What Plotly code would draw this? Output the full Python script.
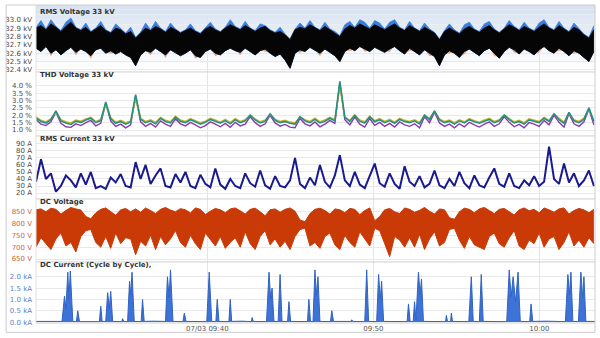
import numpy as np
import pandas as pd
import plotly.graph_objects as go
from plotly.subplots import make_subplots

# ---------------- DATA ----------------
record_start = "2014-07-03 09:29:41"
grid_step_s = 18  # sampling step of the regular series (seconds)

rms_v_blue_hi = [32.91,32.99,32.89,33.00,32.92,32.87,32.97,33.02,32.91,32.88,
                 32.96,32.86,32.90,32.98,32.88,32.85,32.95,32.89,32.84,32.91,
                 32.79,32.85,32.96,32.88,32.98,32.90,32.86,32.96,32.89,32.85,
                 32.88,32.95,32.87,32.84,32.90,32.97,32.89,32.86,32.91,33.00,
                 32.92,32.89,32.98,32.90,32.87,32.95,32.93,32.88,32.85,32.91,
                 32.83,32.77,32.89,32.96,32.90,32.99,32.91,32.88,32.97,32.89,
                 32.86,32.81,32.94,32.98,32.91,33.00,32.97,32.90,32.99,32.96,
                 32.89,32.97,33.00,32.91,32.88,32.98,32.90,32.87,32.96,32.89,
                 32.85,32.77,32.87,32.95,32.88,32.84,32.94,32.97,32.89,32.86,
                 32.95,32.98,32.89,32.85,32.90,32.99,32.92,32.88,32.97,32.90,
                 32.87,32.96,33.00,32.91,32.88,32.98,32.90,32.86,32.96,32.89,32.83,32.79,32.93]
rms_v_black_hi = [32.90,32.93,32.88,32.95,32.91,32.86,32.92,32.97,32.90,32.87,
                  32.91,32.85,32.89,32.93,32.87,32.84,32.90,32.88,32.83,32.86,
                  32.78,32.84,32.90,32.87,32.92,32.89,32.85,32.91,32.88,32.84,
                  32.87,32.90,32.86,32.83,32.89,32.92,32.88,32.85,32.90,32.94,
                  32.91,32.88,32.93,32.89,32.86,32.90,32.92,32.87,32.84,32.86,
                  32.82,32.76,32.88,32.91,32.89,32.94,32.90,32.87,32.92,32.88,
                  32.85,32.80,32.89,32.93,32.90,32.95,32.92,32.89,32.94,32.91,
                  32.88,32.92,32.95,32.90,32.87,32.93,32.89,32.86,32.91,32.88,
                  32.84,32.76,32.86,32.90,32.87,32.83,32.89,32.92,32.88,32.85,
                  32.90,32.93,32.88,32.84,32.89,32.94,32.91,32.87,32.92,32.89,
                  32.86,32.91,32.95,32.90,32.87,32.93,32.89,32.85,32.91,32.88,32.82,32.78,32.88]
rms_v_black_lo = [32.66,32.62,32.68,32.60,32.64,32.58,32.63,32.67,32.61,32.65,
                  32.62,32.57,32.64,32.66,32.60,32.63,32.59,32.62,32.58,32.55,
                  32.45,32.58,32.63,32.61,32.66,32.62,32.58,32.64,32.60,32.57,
                  32.60,32.64,32.57,32.55,32.62,32.65,32.60,32.58,32.63,32.66,
                  32.63,32.61,32.66,32.62,32.58,32.63,32.65,32.60,32.56,32.59,
                  32.52,32.42,32.60,32.64,32.62,32.67,32.63,32.60,32.65,32.61,
                  32.57,32.50,32.62,32.66,32.63,32.68,32.65,32.62,32.67,32.64,
                  32.61,32.65,32.68,32.63,32.59,32.66,32.62,32.58,32.64,32.60,
                  32.56,32.45,32.58,32.63,32.60,32.55,32.62,32.65,32.61,32.57,
                  32.63,32.66,32.60,32.54,32.62,32.67,32.64,32.59,32.65,32.62,
                  32.58,32.64,32.68,32.63,32.60,32.66,32.62,32.57,32.63,32.60,32.55,32.50,32.62]
rms_v_peach_lo = [32.68,32.64,32.70,32.57,32.66,32.60,32.65,32.69,32.58,32.67,
                  32.64,32.54,32.66,32.68,32.62,32.60,32.61,32.64,32.60,32.57,
                  32.47,32.60,32.65,32.58,32.68,32.64,32.55,32.66,32.62,32.59,
                  32.62,32.66,32.54,32.57,32.64,32.67,32.57,32.60,32.65,32.68,
                  32.65,32.58,32.68,32.64,32.60,32.65,32.62,32.62,32.58,32.61,
                  32.54,32.44,32.62,32.61,32.64,32.69,32.65,32.57,32.67,32.63,
                  32.59,32.52,32.64,32.63,32.65,32.70,32.62,32.64,32.69,32.66,
                  32.63,32.62,32.70,32.65,32.61,32.63,32.64,32.60,32.66,32.57,
                  32.58,32.47,32.60,32.60,32.62,32.57,32.59,32.67,32.63,32.59,
                  32.65,32.68,32.57,32.56,32.64,32.69,32.61,32.61,32.67,32.64,
                  32.60,32.61,32.70,32.65,32.62,32.63,32.64,32.59,32.60,32.62,32.57,32.52,32.64]

thd_green = [1.82,1.58,1.47,1.70,2.30,1.62,1.48,1.38,1.60,1.52,
             1.68,1.80,1.50,1.64,2.90,1.76,1.46,1.58,1.40,1.54,
             3.40,1.72,1.50,1.62,1.42,1.80,1.58,1.48,1.88,1.60,
             1.50,1.70,1.56,1.40,1.52,1.72,1.60,1.46,1.64,1.42,
             1.70,1.50,1.62,2.00,1.68,1.48,1.60,2.10,1.66,1.50,
             1.58,1.46,1.40,1.90,1.62,1.50,1.72,1.48,1.60,1.80,
             1.62,4.30,1.86,1.58,2.00,1.60,1.48,1.90,1.56,1.70,
             1.50,1.64,1.46,1.72,1.58,1.50,1.62,1.42,2.00,1.70,
             2.30,1.68,1.50,1.60,1.40,1.62,1.48,1.70,1.56,1.46,
             1.60,1.72,1.50,1.62,2.00,1.70,1.48,1.58,1.40,1.68,
             1.60,1.50,1.80,1.58,2.10,1.70,1.46,2.20,1.62,1.50,1.72,2.50,1.58]
thd_yellow = [1.90,1.66,1.55,1.78,2.20,1.70,1.56,1.48,1.68,1.60,
              1.76,1.86,1.58,1.72,2.70,1.84,1.54,1.66,1.50,1.62,
              3.10,1.80,1.58,1.70,1.52,1.86,1.66,1.56,1.94,1.68,
              1.58,1.78,1.64,1.50,1.60,1.80,1.68,1.54,1.72,1.52,
              1.78,1.58,1.70,2.00,1.76,1.56,1.68,2.05,1.74,1.58,
              1.66,1.54,1.50,1.88,1.70,1.58,1.80,1.56,1.68,1.86,
              1.70,3.90,1.90,1.66,2.02,1.68,1.56,1.94,1.64,1.78,
              1.58,1.72,1.54,1.80,1.66,1.58,1.70,1.52,2.04,1.78,
              2.25,1.76,1.58,1.68,1.50,1.70,1.56,1.78,1.64,1.54,
              1.68,1.80,1.58,1.70,2.02,1.78,1.56,1.66,1.50,1.76,
              1.68,1.58,1.86,1.66,2.08,1.78,1.54,2.15,1.70,1.58,1.80,2.40,1.66]
thd_purple = [1.70,1.40,1.30,1.55,2.20,1.45,1.22,1.18,1.42,1.30,
              1.50,1.65,1.28,1.45,2.80,1.60,1.25,1.40,1.15,1.35,
              3.30,1.55,1.25,1.45,1.20,1.62,1.40,1.25,1.75,1.42,
              1.28,1.52,1.35,1.15,1.30,1.55,1.40,1.22,1.45,1.18,
              1.52,1.28,1.40,1.90,1.50,1.25,1.42,2.00,1.48,1.26,
              1.38,1.20,1.15,1.78,1.42,1.28,1.55,1.22,1.40,1.65,
              1.45,4.20,1.70,1.35,1.88,1.40,1.20,1.78,1.32,1.52,
              1.25,1.45,1.20,1.55,1.35,1.25,1.42,1.15,1.90,1.50,
              2.20,1.48,1.25,1.40,1.15,1.42,1.22,1.52,1.35,1.20,
              1.40,1.55,1.25,1.42,1.90,1.52,1.22,1.38,1.15,1.50,
              1.40,1.25,1.65,1.35,2.00,1.52,1.20,2.10,1.42,1.25,1.55,2.40,1.35]

rms_current = [36,68,40,48,22,30,45,38,28,48,
               32,50,27,30,26,42,35,47,30,28,
               64,40,60,33,45,55,30,28,47,35,
               50,30,27,46,33,28,55,32,26,40,
               30,27,48,34,29,52,31,26,44,30,
               28,38,70,33,27,42,31,60,36,28,
               45,74,38,30,50,32,27,46,62,34,
               29,48,33,26,58,36,30,44,28,33,
               52,31,27,40,30,50,34,27,45,31,
               28,42,55,33,29,48,30,27,38,31,
               44,30,36,86,40,33,62,35,48,30,38,52,30]

dc_v_hi = [858,862,850,865,860,840,855,868,862,857,
           830,820,845,860,866,852,835,858,864,850,
           862,848,866,855,842,860,868,857,850,863,
           858,845,866,860,838,852,864,858,846,862,
           866,854,840,860,865,850,833,858,862,848,
           860,866,852,815,808,842,860,865,855,840,
           862,858,846,864,860,838,855,866,812,830,
           858,864,850,842,866,860,848,856,868,852,
           840,862,858,825,818,850,865,860,846,862,
           868,855,842,860,864,850,836,858,866,854,
           860,845,866,858,848,862,866,840,855,864,858,846,860]
dc_v_lo = [700,740,715,690,735,760,705,720,680,745,
           770,775,720,700,745,695,760,715,740,735,
           668,725,705,750,690,745,710,735,770,720,
           700,750,715,690,760,730,705,745,695,720,
           740,700,765,715,690,745,770,710,735,700,
           725,690,745,775,780,705,720,695,745,760,
           710,690,750,720,700,765,735,705,780,770,
           715,660,745,730,700,740,700,755,690,735,
           765,705,720,775,780,730,695,745,710,700,
           690,745,760,715,700,740,770,705,690,730,
           715,760,700,735,745,690,720,765,705,730,700,740,715]

# DC current: (seconds after record start, kA)
dc_i_sec = [0,43,94,103,108,115,119,124,133,146,151,157,205,229,234,239,252,259,265,270,277,
            310,313,317,331,338,342,347,355,380,385,391,421,468,475,481,486,495,531,536,542,583,
            617,626,635,650,655,661,697,702,707,745,778,781,785,833,842,848,853,860,875,882,889,
            909,914,920,954,981,986,992,1001,1008,1013,1019,1026,1064,1069,1075,1138,1141,1145,
            1188,1195,1202,1231,1238,1244,1249,1256,1303,1341,1346,1352,1363,1368,1373,1382,1388,
            1393,1400,1447,1480,1483,1487,1498,1501,1505,1564,1573,1580,1602,1609,1616,1663,1701,
            1710,1717,1724,1733,1742,1750,1784,1789,1795,1843,1913,1922,1928,1933,1940,1960,1969,
            1975,1980,1987,2020]
dc_i_ka = [0.03,0.04,0.03,1.15,0.6,2.2,1.0,2.25,0.03,0.02,0.5,0.02,0.04,0.02,0.7,0.03,0.03,1.3,0.6,1.35,0.03,
           0.02,0.15,0.03,0.02,1.8,1.2,2.2,0.03,0.02,1.0,0.03,0.04,0.03,2.0,1.1,2.3,0.03,0.02,0.4,0.03,0.04,
           0.02,2.2,0.03,0.02,1.0,0.03,0.02,1.0,0.03,0.04,0.02,0.2,0.03,0.02,2.2,1.0,1.5,0.03,0.02,2.1,0.03,
           0.02,0.9,0.03,0.04,0.02,1.0,0.03,0.02,2.3,1.2,2.0,0.03,0.02,0.5,0.03,0.03,0.1,0.03,
           0.02,2.3,0.03,0.02,2.1,1.0,1.8,0.03,0.04,0.02,0.8,0.03,0.02,0.9,0.1,2.2,1.2,
           1.9,0.03,0.04,0.02,0.3,0.03,0.02,0.4,0.03,0.02,2.0,0.03,0.02,2.1,0.03,0.04,0.02,
           2.3,1.1,2.0,0.9,2.2,0.03,0.02,0.8,0.03,0.04,0.02,2.1,1.2,2.2,0.03,0.02,2.2,
           1.1,2.0,0.03,0.03]

panel_titles = ["RMS Voltage 33 kV", "THD Voltage 33 kV", "RMS Current 33 kV",
                "DC Voltage", "DC Current (Cycle by Cycle),"]
x_tick_times = ["2014-07-03 09:40:00", "2014-07-03 09:50:00", "2014-07-03 10:00:00"]
x_tick_text = ["07/03 09:40", "09:50", "10:00"]
y1_ticks = [32.4, 32.5, 32.6, 32.7, 32.8, 32.9, 33.0]
y2_ticks = [1.0, 1.5, 2.0, 2.5, 3.0, 3.5, 4.0]
y3_ticks = [20, 30, 40, 50, 60, 70, 80, 90]
y4_ticks = [650, 700, 750, 800, 850]
y5_ticks = [0.0, 0.5, 1.0, 1.5, 2.0]

# ---------------- BUILD ----------------
t0 = pd.Timestamp(record_start)
t_grid = t0 + pd.to_timedelta(np.arange(len(thd_green)) * grid_step_s, unit="s")
t_dci = t0 + pd.to_timedelta(np.array(dc_i_sec), unit="s")
t_end = t0 + pd.Timedelta(seconds=2020)

W, H = 600, 338
ML, MR, MT, MB = 33, 5, 5, 10
PH = H - MT - MB
PW = W - ML - MR
panel_px = [(5, 73), (73, 138), (138, 202), (202, 266), (266, 328)]
def py(p):
    return (H - MB - p) / PH
def px(p):
    return (p - ML) / PW

fig = make_subplots(rows=5, cols=1, shared_xaxes=True, vertical_spacing=0)

def band(lo, hi, color, row, lw=0.8):
    fig.add_trace(go.Scatter(x=t_grid, y=lo, mode="lines", line=dict(color=color, width=lw),
                             hoverinfo="skip"), row=row, col=1)
    fig.add_trace(go.Scatter(x=t_grid, y=hi, mode="lines", line=dict(color=color, width=lw),
                             fill="tonexty", fillcolor=color, hoverinfo="skip"), row=row, col=1)

# Panel 1
band(rms_v_peach_lo, rms_v_black_hi, "#e3a47e", 1, lw=0.6)
band(rms_v_black_lo, rms_v_blue_hi, "#3b7ddb", 1)
band(rms_v_black_lo, rms_v_black_hi, "#050505", 1)

# Panel 2
fig.add_trace(go.Scatter(x=t_grid, y=thd_purple, mode="lines", line=dict(color="#8b3ab0", width=1.4)), row=2, col=1)
fig.add_trace(go.Scatter(x=t_grid, y=thd_yellow, mode="lines", line=dict(color="#c9b52e", width=1.4)), row=2, col=1)
fig.add_trace(go.Scatter(x=t_grid, y=thd_green, mode="lines", line=dict(color="#23917f", width=1.6)), row=2, col=1)

# Panel 3
fig.add_trace(go.Scatter(x=t_grid, y=rms_current, mode="lines", line=dict(color="#1a1a8f", width=2)), row=3, col=1)

# Panel 4
band(dc_v_lo, dc_v_hi, "#c93a06", 4, lw=1)

# Panel 5
fig.add_trace(go.Scatter(x=t_dci, y=dc_i_ka, mode="lines", line=dict(color="#2f63c4", width=1),
                         fill="tozeroy", fillcolor="#3d72d6"), row=5, col=1)

font_family = "DejaVu Sans"
ranges = [[32.376, 33.176], [0.6, 4.93], [11.6, 101.2], [637.5, 904], [-0.04, 2.65]]
ticks = [y1_ticks, y2_ticks, y3_ticks, y4_ticks, y5_ticks]
suffix = [" kV", " %", " A", " V", " kA"]
fmts = ["{:.1f}", "{:.1f}", "{:d}", "{:d}", "{:.1f}"]
tcolors = ["#4a4a4a", "#4a4a4a", "#4a4a4a", "#c8664a", "#5a80cf"]

for i in range(5):
    top, bot = panel_px[i]
    yname = "yaxis" if i == 0 else f"yaxis{i+1}"
    xname = "xaxis" if i == 0 else f"xaxis{i+1}"
    labels = [fmts[i].format(v) + suffix[i] for v in ticks[i]]
    fig.layout[yname].update(domain=[py(bot), py(top)], range=ranges[i], tickmode="array",
                             tickvals=ticks[i], ticktext=labels, showgrid=True,
                             gridcolor="#e9e9e9", gridwidth=1, zeroline=False, showline=False,
                             ticks="", ticklabelstandoff=3,
                             tickfont=dict(family=font_family, size=7, color=tcolors[i]))
    fig.layout[xname].update(range=[t0, t_end], tickmode="array", tickvals=pd.to_datetime(x_tick_times),
                             ticktext=x_tick_text, showgrid=True, gridcolor="#e4e4e4",
                             zeroline=False, showline=False, ticks="",
                             tickfont=dict(family=font_family, size=7, color="#555555"),
                             showticklabels=(i == 4))
    fig.add_annotation(text=f"<b>{panel_titles[i]}</b>", xref="paper", yref="paper",
                       x=px(35), y=py(top + (7 if i == 0 else 3)), xanchor="left", yanchor="middle",
                       showarrow=False, font=dict(family=font_family, size=7, color="#333333"))

# gradient background for panel 1
n_str = 14
top, bot = panel_px[0]
for k in range(n_str):
    f = k / (n_str - 1)
    r = int(0xd9 + (0xff - 0xd9) * f)
    g = int(0xe3 + (0xff - 0xe3) * f)
    b = int(0xf1 + (0xff - 0xf1) * f)
    y_a = top + (bot - top) * k / n_str
    y_b = top + (bot - top) * (k + 1) / n_str
    fig.add_shape(type="rect", xref="paper", yref="paper", x0=0, x1=1, y0=py(y_b), y1=py(y_a),
                  fillcolor=f"rgb({r},{g},{b})", line_width=0, layer="below")

# panel separators and frame
for p in [73, 138, 202, 266, 328]:
    fig.add_shape(type="line", xref="paper", yref="paper", x0=0, x1=1, y0=py(p), y1=py(p),
                  line=dict(color="#cfcfcf", width=1))
fig.add_shape(type="rect", xref="paper", yref="paper", x0=px(3), x1=px(595), y0=py(337.5), y1=py(5),
              line=dict(color="#cccccc", width=1), fillcolor="rgba(0,0,0,0)")
fig.add_shape(type="line", xref="paper", yref="paper", x0=0, x1=0, y0=py(328), y1=py(5),
              line=dict(color="#e0e0e0", width=1))

fig.update_layout(width=W, height=H, margin=dict(l=ML, r=MR, t=MT, b=MB),
                  paper_bgcolor="white", plot_bgcolor="rgba(0,0,0,0)",
                  showlegend=False, hovermode=False)

fig.write_html("out.html")
